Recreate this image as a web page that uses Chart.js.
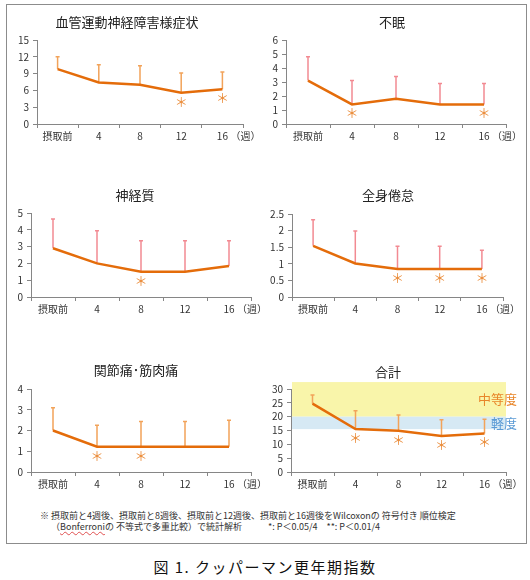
<!DOCTYPE html>
<html lang="ja">
<head>
<meta charset="utf-8">
<title>クッパーマン更年期指数</title>
<script src="https://cdn.jsdelivr.net/npm/chart.js@4.4.1/dist/chart.umd.min.js"></script>
<style>
  * { margin: 0; padding: 0; box-sizing: border-box; }
  body {
    width: 530px; height: 580px; position: relative; overflow: hidden;
    background: #fff; font-family: "Noto Sans CJK JP", sans-serif;
  }
  .frame {
    position: absolute; left: 6px; top: 4px; width: 521px; height: 540px;
    border: 1.5px solid #8c8c8c;
  }
  canvas { position: absolute; }
  .note { position: absolute; font-size: 9px; line-height: 11px; color: #333; white-space: nowrap; }
  .note .wavy { text-decoration: underline wavy #e05050; text-decoration-thickness: 1px; }
  .caption {
    position: absolute; left: 0; top: 556px; width: 530px; text-align: center;
    font-size: 15px; letter-spacing: 1.5px; color: #111;
  }
</style>
</head>
<body>
<div class="frame"></div>
<canvas id="p1"></canvas>
<canvas id="p2"></canvas>
<canvas id="p3"></canvas>
<canvas id="p4"></canvas>
<canvas id="p5"></canvas>
<canvas id="p6"></canvas>
<div class="note" style="left:40px; top:510px;">※ 摂取前と4週後、摂取前と8週後、摂取前と12週後、摂取前と16週後をWilcoxonの 符号付き 順位検定</div>
<div class="note" style="left:51px; top:521px;">（<span class="wavy">Bonferroni</span>の 不等式で多重比較）で統計解析</div>
<div class="note" style="left:268px; top:521px;">*: P＜0.05/4　**: P＜0.01/4</div>
<div class="caption">図 1. クッパーマン更年期指数</div>

<script>
  // x axis
  const categories = ["摂取前", "4", "8", "12", "16"];
  const weekUnit = "（週）";

  // 血管運動神経障害様症状
  const vasoMean = [9.8, 7.4, 7.0, 5.6, 6.2];
  const vasoSd = [2.2, 3.2, 3.4, 3.5, 3.1];
  const vasoSig = [0, 0, 0, 1, 1];

  // 不眠
  const sleepMean = [3.1, 1.4, 1.8, 1.4, 1.4];
  const sleepSd = [1.7, 1.7, 1.6, 1.5, 1.5];
  const sleepSig = [0, 1, 0, 0, 1];

  // 神経質
  const nervMean = [2.9, 2.0, 1.5, 1.5, 1.85];
  const nervSd = [1.75, 1.95, 1.85, 1.85, 1.5];
  const nervSig = [0, 0, 1, 0, 0];

  // 全身倦怠
  const fatigueMean = [1.54, 1.01, 0.84, 0.84, 0.84];
  const fatigueSd = [0.79, 0.98, 0.69, 0.69, 0.57];
  const fatigueSig = [0, 0, 1, 1, 1];

  // 関節痛・筋肉痛
  const painMean = [2.0, 1.22, 1.22, 1.22, 1.22];
  const painSd = [1.1, 1.03, 1.21, 1.21, 1.28];
  const painSig = [0, 1, 1, 0, 0];

  // 合計
  const totalMean = [24.7, 15.5, 14.9, 13.0, 13.9];
  const totalSd = [3.1, 6.6, 5.7, 5.9, 5.2];
  const totalSig = [0, 1, 1, 1, 1];

  // severity bands on the total chart
  const bandLabels = ["中等度", "軽度"];
  const bandFrom = [20, 15.5];
  const bandTo = [32.5, 20];

  const LINE = "#e46c0a";
  const ORANGE_ERR = "#f2a35a";
  const PINK_ERR = "#f28a92";
  const AXIS = "#868686";
  const TEXT = "#333";
  const FONT = '"Noto Sans CJK JP", sans-serif';

  // where each plot area sits on the page (l, r, t, b) and its title centre
  const panels = [
    { id: "p1", title: "血管運動神経障害様症状", mean: vasoMean, sd: vasoSd, sig: vasoSig, max: 15, step: 3, err: ORANGE_ERR, l: 37, r: 243, t: 40, b: 124, tx: 127, ty: 22 },
    { id: "p2", title: "不眠", mean: sleepMean, sd: sleepSd, sig: sleepSig, max: 6, step: 1, err: PINK_ERR, l: 286, r: 506, t: 40, b: 124, tx: 392, ty: 22 },
    { id: "p3", title: "神経質", mean: nervMean, sd: nervSd, sig: nervSig, max: 5, step: 1, err: PINK_ERR, l: 31, r: 251, t: 213, b: 297, tx: 135, ty: 195 },
    { id: "p4", title: "全身倦怠", mean: fatigueMean, sd: fatigueSd, sig: fatigueSig, max: 2.5, step: 0.5, err: PINK_ERR, l: 292, r: 503, t: 214, b: 297, tx: 388, ty: 195 },
    { id: "p5", title: "関節痛･筋肉痛", mean: painMean, sd: painSd, sig: painSig, max: 4, step: 1, err: ORANGE_ERR, l: 31, r: 251, t: 389, b: 472, tx: 136, ty: 370 },
    { id: "p6", title: "合計", mean: totalMean, sd: totalSd, sig: totalSig, max: 30, step: 5, err: ORANGE_ERR, l: 291, r: 506, t: 389, b: 472, tx: 388, ty: 372, bands: true },
  ];

  const Y_W = 32, X_H = 20, PAD_R = 24;

  function decor(p, left, top) {
    return {
      id: "decor_" + p.id,
      beforeDatasetsDraw(chart) {
        const { ctx, chartArea: a, scales: { x, y } } = chart;
        ctx.save();
        if (p.bands) {
          const fills = ["#f9f5aa", "#d6e9f4"];
          bandFrom.forEach((v, i) => {
            const yTop = y.getPixelForValue(bandTo[i]);
            const yBot = y.getPixelForValue(v);
            ctx.fillStyle = fills[i];
            ctx.fillRect(a.left + 1, yTop, a.right - a.left - 1, yBot - yTop);
          });
        }
        // error bars (upper side only)
        ctx.strokeStyle = p.err;
        ctx.lineWidth = 1.5;
        p.mean.forEach((m, i) => {
          const px = x.getPixelForValue(i);
          const y0 = y.getPixelForValue(m);
          const y1 = y.getPixelForValue(m + p.sd[i]);
          ctx.beginPath();
          ctx.moveTo(px, y0);
          ctx.lineTo(px, y1);
          ctx.moveTo(px - 2, y1);
          ctx.lineTo(px + 2, y1);
          ctx.stroke();
        });
        ctx.restore();
      },
      afterDraw(chart) {
        const { ctx, chartArea: a, scales: { x, y } } = chart;
        ctx.save();
        ctx.textBaseline = "middle";
        // title
        ctx.font = "13px " + FONT;
        ctx.fillStyle = "#222";
        ctx.textAlign = "center";
        ctx.fillText(p.title, p.tx - left, p.ty - top);
        // significance marks
        ctx.font = "13px " + FONT;
        ctx.fillStyle = "#ea8a36";
        p.sig.forEach((s, i) => {
          if (s) ctx.fillText("＊", x.getPixelForValue(i), y.getPixelForValue(p.mean[i]) + 9);
        });
        // unit
        ctx.font = "10px " + FONT;
        ctx.fillStyle = TEXT;
        ctx.textAlign = "left";
        ctx.fillText(weekUnit, x.getPixelForValue(categories.length - 1) + 8, a.bottom + 12);
        // band labels
        if (p.bands) {
          const cols = ["#e8862a", "#5b9bd5"];
          ctx.font = "13px " + FONT;
          ctx.textAlign = "right";
          bandLabels.forEach((t, i) => {
            ctx.fillStyle = cols[i];
            ctx.fillText(t, a.right + 11, y.getPixelForValue((bandFrom[i] + bandTo[i]) / 2));
          });
        }
        ctx.restore();
      },
    };
  }

  panels.forEach((p) => {
    const left = p.l - Y_W;
    const top = p.ty - 16;
    const width = p.r + PAD_R - left;
    const height = p.b + X_H - top;
    const cv = document.getElementById(p.id);
    cv.width = width;
    cv.height = height;
    cv.style.left = left + "px";
    cv.style.top = top + "px";

    new Chart(cv, {
      type: "line",
      data: {
        labels: categories,
        datasets: [{
          data: p.mean,
          borderColor: LINE,
          borderWidth: 2.5,
          pointRadius: 0,
          tension: 0,
        }],
      },
      options: {
        responsive: false,
        animation: false,
        layout: { padding: { top: p.t - top, right: PAD_R, left: 0, bottom: 0 } },
        plugins: { legend: { display: false }, tooltip: { enabled: false }, title: { display: false } },
        scales: {
          x: {
            type: "category",
            offset: true,
            afterFit: (s) => { s.height = X_H; },
            grid: { offset: true, drawOnChartArea: false, tickLength: 4, color: AXIS },
            border: { color: AXIS },
            ticks: { padding: 2, color: TEXT, font: { family: FONT, size: 10 }, maxRotation: 0, autoSkip: false },
          },
          y: {
            min: 0,
            max: p.max,
            afterFit: (s) => { s.width = Y_W; },
            grid: { drawOnChartArea: false, tickLength: 4, color: AXIS },
            border: { color: AXIS },
            ticks: {
              stepSize: p.step,
              autoSkip: false,
              padding: 4,
              color: TEXT,
              font: { family: FONT, size: 10 },
              callback: (v) => String(+v.toFixed(2)),
            },
          },
        },
      },
      plugins: [decor(p, left, top)],
    });
  });
</script>
</body>
</html>
